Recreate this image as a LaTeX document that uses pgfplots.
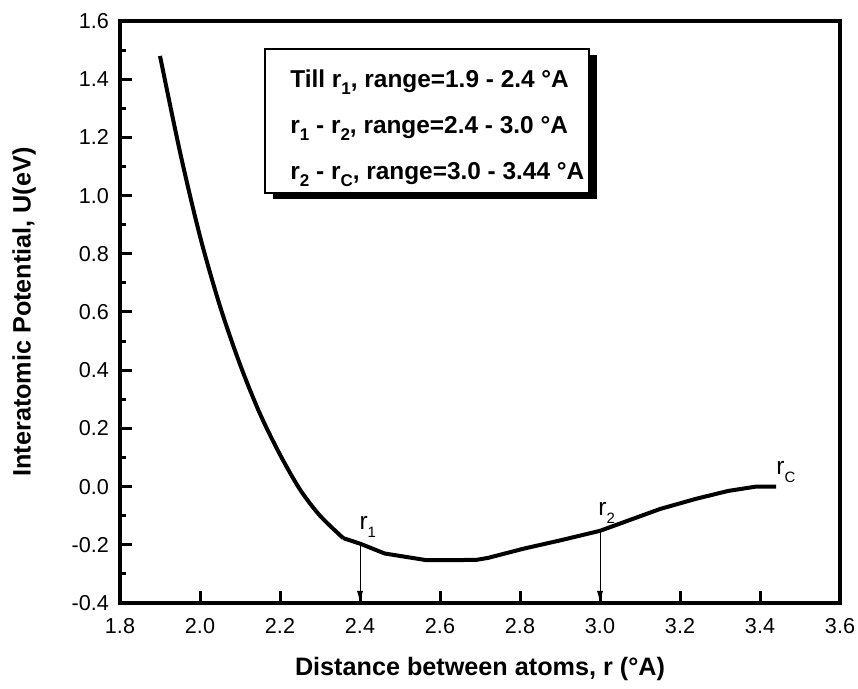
\documentclass[border=0pt]{standalone}
\usepackage{fontspec}
\setmainfont{Liberation Sans}
\usepackage{pgfplots}
\pgfplotsset{compat=1.18}
\usetikzlibrary{arrows.meta}
\newcommand{\lsub}[1]{\raisebox{-4bp}{\fontsize{7.5bp}{9bp}\selectfont #1}}
\newcommand{\bsub}[1]{\raisebox{-3.5bp}{\fontsize{8.5bp}{10bp}\selectfont #1}}
\begin{document}
\begin{tikzpicture}
\useasboundingbox (0,0) rectangle (429bp,344.5bp);
\begin{axis}[
    at={(60bp,43bp)}, anchor=south west,
    scale only axis, width=360bp, height=291bp,
    xmin=1.8, xmax=3.6, ymin=-0.4, ymax=1.6,
    xtick={1.8,2.0,2.2,2.4,2.6,2.8,3.0,3.2,3.4,3.6},
    ytick={-0.4,-0.2,0.0,0.2,0.4,0.6,0.8,1.0,1.2,1.4,1.6},
    minor y tick num=1,
    tick pos=left, tick align=inside,
    major tick length=6bp, minor tick length=3bp,
    every tick/.style={line width=1.5bp, black},
    axis line style={line width=2bp},
    clip=false,
    /pgf/number format/.cd, fixed, fixed zerofill, precision=1, assume math mode=true,
    /pgfplots/.cd,
    tick label style={font=\fontsize{10.8bp}{13bp}\selectfont},
    xticklabel style={yshift=-4bp},
    yticklabel style={xshift=-2bp},
    xlabel={\textbf{Distance between atoms, r (°A)}},
    ylabel={\textbf{Interatomic Potential, U(eV)}},
    label style={font=\fontsize{12.6bp}{15bp}\selectfont},
    xlabel style={at={([yshift=-33bp]axis description cs:0.5,0)}, anchor=center},
    ylabel style={at={([xshift=-48bp]axis description cs:0,0.5)}, anchor=center},
]
% repulsive part up to r1
\addplot[black, line width=2bp, smooth, tension=0.5] coordinates {
    (1.900,1.480) (1.950,1.150) (2.000,0.860) (2.050,0.620) (2.100,0.420)
    (2.150,0.250) (2.200,0.110) (2.250,-0.010) (2.300,-0.100) (2.358,-0.177)};
% r1 - r2 and r2 - rc
\addplot[black, line width=2bp] coordinates {
    (2.358,-0.177) (2.400,-0.196) (2.462,-0.230) (2.567,-0.253) (2.690,-0.252)
    (2.720,-0.245) (2.810,-0.213) (2.900,-0.185) (3.000,-0.152) (3.070,-0.117)
    (3.150,-0.077) (3.240,-0.042) (3.320,-0.015) (3.390,0.000) (3.440,0.000)};
% markers for r1 and r2
\addplot[black, line width=0.5bp, -{Latex[length=6bp,width=3bp]}] coordinates {(2.4,-0.196) (2.4,-0.4)};
\addplot[black, line width=0.5bp, -{Latex[length=6bp,width=3bp]}] coordinates {(3.0,-0.152) (3.0,-0.4)};

\node[anchor=base west, inner sep=0, font=\fontsize{12.2bp}{14bp}\selectfont] at (axis cs:2.398,-0.146) {r\lsub{1}};
\node[anchor=base west, inner sep=0, font=\fontsize{12.2bp}{14bp}\selectfont] at (axis cs:2.995,-0.098) {r\lsub{2}};
\node[anchor=base west, inner sep=0, font=\fontsize{12.2bp}{14bp}\selectfont] at (axis cs:3.440,0.040) {r\lsub{C}};

% range box with shadow
\fill[black] ([xshift=4bp,yshift=-3bp]axis cs:2.1625,1.504) rectangle ([xshift=4bp,yshift=-3bp]axis cs:2.9725,1.009);
\filldraw[fill=white, draw=black, line width=0.6bp] (axis cs:2.1625,1.504) rectangle (axis cs:2.9725,1.009);
\node[anchor=base west, inner sep=0, font=\fontsize{12.2bp}{15bp}\selectfont\bfseries] at (axis cs:2.225,1.373) {Till r\bsub{1}, range=1.9 - 2.4 °A};
\node[anchor=base west, inner sep=0, font=\fontsize{12.2bp}{15bp}\selectfont\bfseries] at (axis cs:2.225,1.215) {r\bsub{1} - r\bsub{2}, range=2.4 - 3.0 °A};
\node[anchor=base west, inner sep=0, font=\fontsize{12.2bp}{15bp}\selectfont\bfseries] at (axis cs:2.225,1.054) {r\bsub{2} - r\bsub{C}, range=3.0 - 3.44 °A};
\end{axis}
\end{tikzpicture}
\end{document}
